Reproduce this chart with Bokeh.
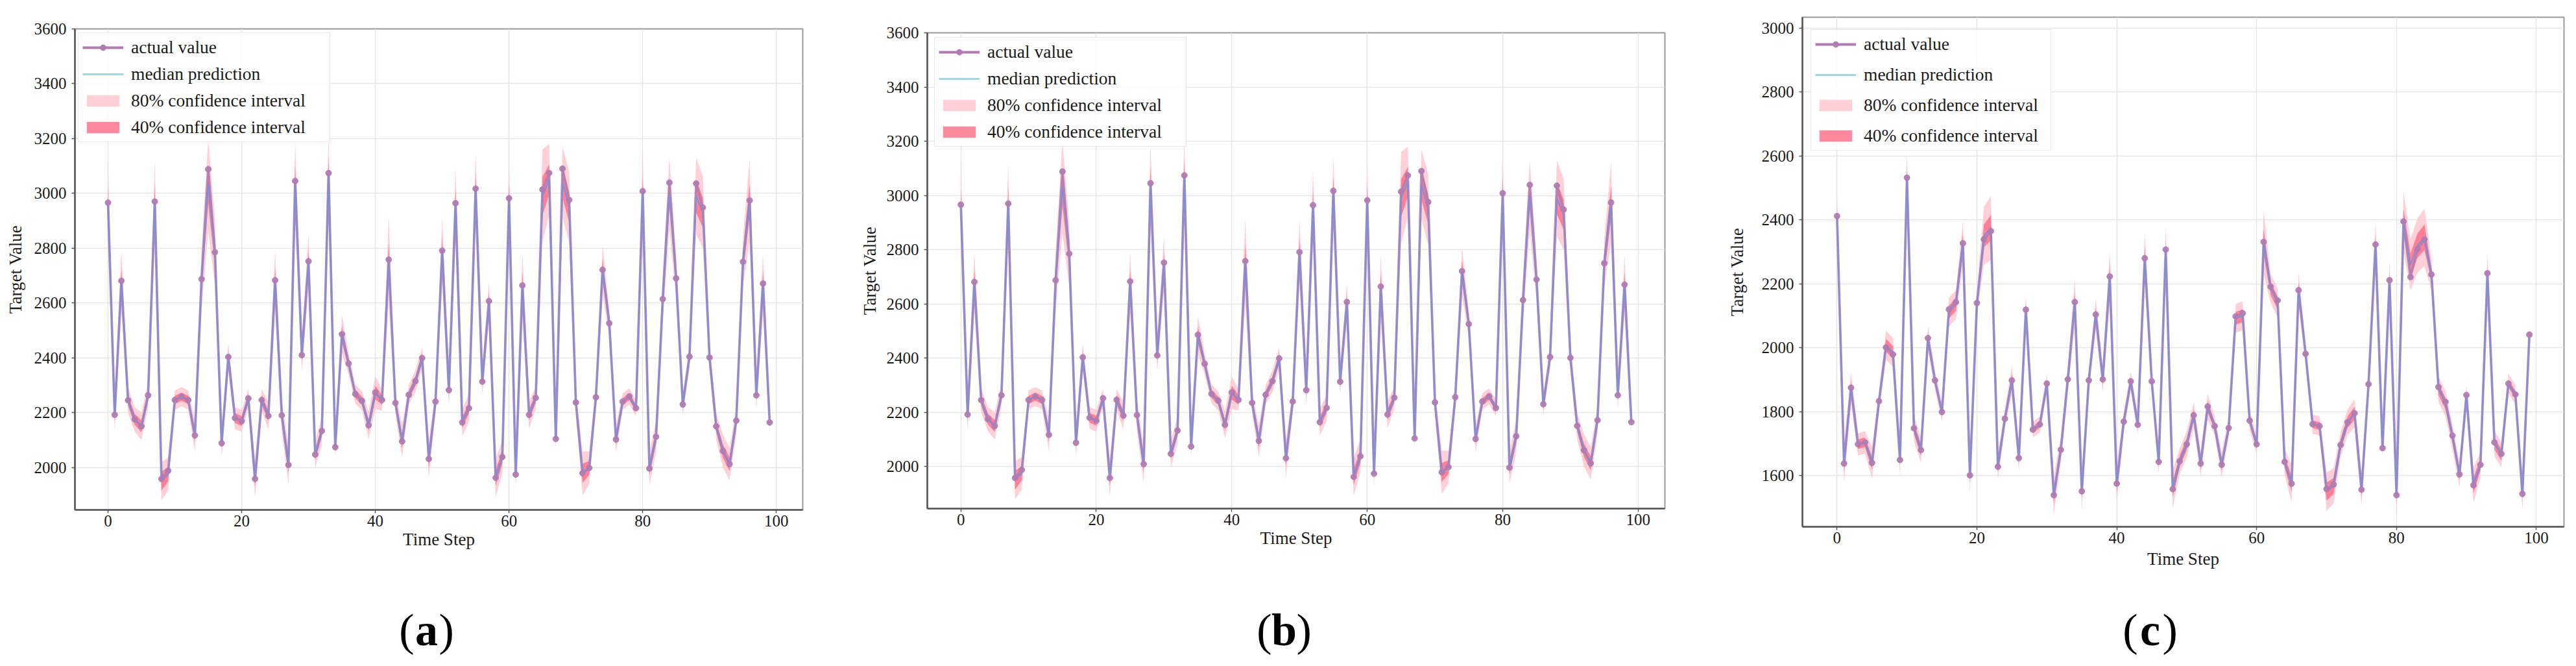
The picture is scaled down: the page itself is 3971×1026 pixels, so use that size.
from bokeh.plotting import figure
from bokeh.models import (ColumnDataSource, Range1d, FixedTicker, Legend, LegendItem)
from bokeh.layouts import row, column
from bokeh.core.properties import value
from bokeh.embed import file_html
from bokeh.resources import INLINE

# ---------------- data ----------------
steps = list(range(100))

actual_ab = [2966, 2192, 2681, 2245, 2175, 2150, 2263, 2970, 1958, 1988,
             2246, 2258, 2246, 2117, 2687, 3088, 2785, 2088, 2403, 2180,
             2169, 2252, 1958, 2246, 2188, 2683, 2190, 2009, 3045, 2410,
             2752, 2047, 2133, 3074, 2074, 2486, 2379, 2268, 2243, 2154,
             2273, 2246, 2758, 2235, 2095, 2265, 2315, 2399, 2031, 2240,
             2791, 2282, 2964, 2164, 2216, 3017, 2313, 2607, 1962, 2038,
             2982, 1974, 2664, 2192, 2254, 3014, 3074, 2104, 3090, 2976,
             2237, 1979, 1998, 2256, 2721, 2526, 2102, 2240, 2259, 2216,
             3008, 1996, 2112, 2614, 3039, 2690, 2230, 2404, 3036, 2948,
             2401, 2150, 2060, 2012, 2171, 2750, 2974, 2263, 2671, 2164]

median_ab = [2966, 2192, 2681, 2245, 2175, 2150, 2263, 2970, 1950, 1975,
             2246, 2258, 2246, 2117, 2687, 3030, 2785, 2088, 2403, 2180,
             2169, 2252, 1958, 2246, 2188, 2683, 2190, 2009, 3045, 2410,
             2752, 2047, 2133, 3074, 2074, 2486, 2379, 2268, 2243, 2154,
             2273, 2246, 2758, 2235, 2095, 2265, 2315, 2399, 2031, 2240,
             2791, 2282, 2964, 2164, 2216, 3017, 2313, 2607, 1962, 2038,
             2982, 1974, 2664, 2192, 2254, 2990, 3050, 2104, 3040, 2950,
             2237, 1979, 1998, 2256, 2721, 2526, 2102, 2240, 2259, 2216,
             3008, 1996, 2112, 2614, 3000, 2690, 2230, 2404, 2990, 2930,
             2401, 2150, 2060, 2012, 2171, 2750, 2974, 2263, 2671, 2164]

hw80_ab = [150, 60, 110, 45, 45, 50, 45, 150, 70, 60,
           35, 35, 35, 60, 110, 170, 120, 50, 50, 40,
           40, 35, 70, 40, 50, 110, 60, 70, 150, 60,
           100, 50, 50, 150, 40, 70, 40, 35, 35, 50,
           60, 40, 160, 40, 60, 35, 40, 40, 70, 40,
           120, 60, 130, 50, 50, 130, 50, 70, 70, 60,
           140, 50, 120, 50, 40, 170, 130, 40, 130, 130,
           40, 80, 60, 40, 90, 50, 50, 30, 30, 30,
           140, 60, 60, 80, 130, 80, 40, 40, 140, 130,
           50, 50, 60, 60, 50, 90, 150, 50, 110, 40]

hw40_ab = [60, 25, 45, 20, 20, 22, 20, 60, 35, 25,
           15, 15, 15, 25, 45, 70, 50, 20, 20, 18,
           18, 15, 30, 18, 20, 45, 25, 30, 60, 25,
           40, 20, 20, 60, 18, 30, 18, 15, 15, 20,
           25, 18, 60, 18, 25, 15, 18, 18, 30, 18,
           50, 25, 55, 20, 20, 55, 20, 30, 30, 25,
           55, 20, 50, 20, 18, 70, 55, 18, 55, 55,
           18, 35, 25, 18, 40, 20, 20, 13, 13, 13,
           55, 25, 25, 35, 55, 35, 18, 18, 60, 55,
           20, 20, 25, 25, 20, 40, 60, 20, 45, 18]

actual_c = [2412, 1638, 1875, 1698, 1704, 1640, 1833, 2001, 1979, 1649,
            2532, 1748, 1680, 2030, 1898, 1799, 2120, 2143, 2327, 1601,
            2140, 2339, 2365, 1628, 1778, 1898, 1655, 2119, 1744, 1760,
            1888, 1539, 1681, 1901, 2143, 1551, 1898, 2104, 1901, 2223,
            1575, 1769, 1895, 1759, 2280, 1895, 1643, 2307, 1558, 1645,
            1698, 1789, 1638, 1816, 1755, 1634, 1749, 2098, 2108, 1772,
            1698, 2331, 2191, 2148, 1643, 1575, 2180, 1981, 1761, 1755,
            1558, 1572, 1696, 1767, 1795, 1556, 1886, 2323, 1686, 2211,
            1539, 2395, 2221, 2308, 2339, 2229, 1877, 1831, 1725, 1604,
            1852, 1570, 1634, 2233, 1704, 1668, 1888, 1854, 1543, 2041]

median_c = [2412, 1638, 1875, 1698, 1704, 1640, 1833, 2008, 1985, 1649,
            2532, 1748, 1680, 2030, 1898, 1799, 2112, 2135, 2327, 1601,
            2140, 2350, 2375, 1628, 1778, 1898, 1655, 2119, 1744, 1760,
            1888, 1539, 1681, 1901, 2143, 1551, 1898, 2104, 1901, 2223,
            1575, 1769, 1895, 1759, 2280, 1895, 1643, 2307, 1558, 1645,
            1698, 1789, 1638, 1816, 1755, 1634, 1749, 2092, 2100, 1772,
            1698, 2331, 2185, 2140, 1643, 1575, 2180, 1981, 1761, 1755,
            1550, 1568, 1696, 1767, 1795, 1556, 1886, 2323, 1686, 2211,
            1539, 2395, 2260, 2320, 2345, 2229, 1870, 1825, 1720, 1604,
            1852, 1570, 1634, 2233, 1700, 1665, 1888, 1854, 1543, 2041]

hw80_c = [70, 60, 50, 35, 35, 50, 30, 45, 45, 50,
          80, 40, 40, 40, 30, 30, 45, 45, 70, 60,
          40, 90, 100, 40, 30, 45, 40, 45, 25, 25,
          30, 60, 40, 40, 70, 60, 30, 50, 40, 80,
          60, 30, 30, 30, 80, 30, 40, 70, 60, 40,
          40, 40, 40, 40, 30, 40, 30, 45, 45, 30,
          30, 100, 45, 45, 40, 60, 55, 30, 30, 30,
          60, 55, 40, 40, 45, 50, 30, 70, 30, 60,
          60, 95, 80, 85, 90, 50, 40, 40, 40, 40,
          30, 55, 40, 60, 40, 40, 30, 30, 50, 30]

hw40_c = [30, 25, 20, 15, 15, 20, 12, 20, 20, 20,
          35, 18, 18, 18, 12, 12, 20, 20, 30, 25,
          18, 35, 40, 18, 12, 20, 18, 20, 10, 10,
          12, 25, 18, 18, 30, 25, 12, 22, 18, 35,
          25, 12, 12, 12, 35, 12, 18, 30, 25, 18,
          18, 18, 18, 18, 12, 18, 12, 20, 20, 12,
          12, 40, 20, 20, 18, 25, 25, 12, 12, 12,
          28, 25, 18, 18, 20, 20, 12, 30, 12, 25,
          25, 40, 35, 38, 40, 20, 18, 18, 18, 18,
          12, 25, 18, 25, 18, 18, 12, 12, 20, 12]

x_ticks = [0, 20, 40, 60, 80, 100]
y_ticks_ab = [2000, 2200, 2400, 2600, 2800, 3000, 3200, 3400, 3600]
y_ticks_c = [1600, 1800, 2000, 2200, 2400, 2600, 2800, 3000]

legend_labels = ["actual value", "median prediction",
                 "80% confidence interval", "40% confidence interval"]
captions = ["a", "b", "c"]

# ---------------- styling ----------------
SERIF = "Liberation Serif"
TICKFONT = "Liberation Sans Narrow"
C_ACTUAL = "#b07cb2"
C_MEDIAN_PLOT = "#7a90d8"
C_MEDIAN_LEG = "#a3d7e0"
C_80 = "#ffc0cb"
C_40 = "#ff6b86"
NAN = float("nan")


def make_panel(actual, median, hw80, hw40, yr, yticks, geo, leg):
    lo80 = [m - h for m, h in zip(median, hw80)]
    hi80 = [m + h for m, h in zip(median, hw80)]
    lo40 = [m - h for m, h in zip(median, hw40)]
    hi40 = [m + h for m, h in zip(median, hw40)]
    src = ColumnDataSource(dict(x=steps, actual=actual, median=median,
                                lo80=lo80, hi80=hi80, lo40=lo40, hi40=hi40))

    p = figure(frame_width=geo["fw"], frame_height=geo["fh"],
               min_border_left=geo["l"], min_border_right=geo["r"],
               min_border_top=geo["t"], min_border_bottom=geo["b"],
               x_range=Range1d(-4.95, 103.95), y_range=Range1d(*yr),
               output_backend="svg", toolbar_location=None,
               background_fill_color="white", border_fill_color="white")

    r80 = p.varea(x="x", y1="lo80", y2="hi80", source=src,
                  fill_color=C_80, fill_alpha=0.75)
    r40 = p.varea(x="x", y1="lo40", y2="hi40", source=src,
                  fill_color=C_40, fill_alpha=0.8)
    p.line(x="x", y="actual", source=src, line_color=C_ACTUAL,
           line_width=3.8, line_alpha=0.85)
    p.line(x="x", y="median", source=src, line_color=C_MEDIAN_PLOT,
           line_width=2.2, line_alpha=0.9)
    p.scatter(x="x", y="actual", source=src, size=9,
              fill_color=C_ACTUAL, line_color=C_ACTUAL, alpha=0.95)

    # legend proxies (a single missing point: drawn only in the legend)
    proxy = ColumnDataSource(dict(x=[NAN], y=[NAN]))
    pa_line = p.line(x="x", y="y", source=proxy, line_color=C_ACTUAL, line_width=4)
    pa_pt = p.scatter(x="x", y="y", source=proxy, size=12,
                      fill_color=C_ACTUAL, line_color=C_ACTUAL)
    pm = p.line(x="x", y="y", source=proxy, line_color=C_MEDIAN_LEG, line_width=3)

    legend = Legend(items=[
        LegendItem(label=legend_labels[0], renderers=[pa_line, pa_pt]),
        LegendItem(label=legend_labels[1], renderers=[pm]),
        LegendItem(label=legend_labels[2], renderers=[r80]),
        LegendItem(label=legend_labels[3], renderers=[r40]),
    ], location=(leg["x"], geo["fh"] - leg["y"] - leg["h"]))
    legend.label_text_font = SERIF
    legend.label_text_font_size = "27.5px"
    legend.label_text_color = "#1a1a1a"
    legend.glyph_width = 63
    legend.glyph_height = 22
    legend.label_height = 30
    legend.label_width = leg["lw"]
    legend.label_standoff = 12
    legend.spacing = leg["sp"]
    legend.padding = leg["pad"]
    legend.margin = 0
    legend.border_line_color = "#d4d4d4"
    legend.border_line_width = 1.5
    legend.background_fill_color = "white"
    legend.background_fill_alpha = 0.85
    p.add_layout(legend, "center")

    # axes
    p.xaxis.ticker = FixedTicker(ticks=x_ticks)
    p.yaxis.ticker = FixedTicker(ticks=yticks)
    for ax in (p.xaxis, p.yaxis):
        ax.axis_line_color = "#555555"
        ax.axis_line_width = 2.5
        ax.major_tick_line_color = "#555555"
        ax.major_tick_line_width = 1.5
        ax.major_tick_out = 5
        ax.major_tick_in = 0
        ax.minor_tick_line_color = None
        ax.major_label_text_font = TICKFONT
        ax.major_label_text_font_size = "25px"
        ax.major_label_text_color = "#1a1a1a"
        ax.axis_label_text_font = SERIF
        ax.axis_label_text_font_style = "normal"
        ax.axis_label_text_color = "#1a1a1a"
    p.xaxis.major_label_standoff = 3
    p.yaxis.major_label_standoff = 8
    p.xaxis.axis_label = "Time Step"
    p.xaxis.axis_label_text_font_size = "27px"
    p.xaxis.axis_label_standoff = geo["xlab"]
    p.yaxis.axis_label = "Target Value"
    p.yaxis.axis_label_text_font_size = "27px"
    p.yaxis.axis_label_standoff = geo["ylab"]

    p.xgrid.grid_line_color = "#e6e6e6"
    p.ygrid.grid_line_color = "#e6e6e6"
    p.xgrid.grid_line_width = 1.5
    p.ygrid.grid_line_width = 1.5
    p.outline_line_color = "#9a9a9a"
    p.outline_line_width = 2
    return p


def make_caption(cap, geo, cx):
    # same borders as the panel above, so that the column keeps the frames aligned
    h = 110
    q = figure(frame_width=geo["fw"], frame_height=h,
               min_border_left=geo["l"], min_border_right=geo["r"],
               min_border_top=0, min_border_bottom=0,
               x_range=Range1d(0, geo["fw"]), y_range=Range1d(0, h),
               x_axis_type=None, y_axis_type=None,
               output_backend="svg", toolbar_location=None,
               outline_line_color=None, background_fill_color="white",
               border_fill_color="white")
    q.xgrid.visible = False
    q.ygrid.visible = False
    common = dict(y=[40], text_font=value(SERIF), text_font_size="70px",
                  text_baseline="middle", text_color="black")
    q.text(x=[cx], text=[cap], text_align="center", text_font_style="bold", **common)
    q.text(x=[cx], text=["("], text_align="right", x_offset=-19, **common)
    q.text(x=[cx], text=[")"], text_align="left", x_offset=19, **common)
    return q


geo_a = dict(fw=1122, fh=741, l=115, r=85, t=44, b=115, ylab=11, xlab=2)
geo_b = dict(fw=1137, fh=733, l=107, r=70, t=50, b=117, ylab=8, xlab=2)
geo_c = dict(fw=1174, fh=785, l=142, r=3, t=26, b=89, ylab=20, xlab=6)
leg_a = dict(x=5, y=16, h=159, lw=300, sp=9, pad=6)
leg_b = dict(x=11, y=17, h=159, lw=300, sp=9, pad=6)
leg_c = dict(x=13, y=26, h=180, lw=282, sp=15, pad=6)

pa = make_panel(actual_ab, median_ab, hw80_ab, hw40_ab, (1845, 3600), y_ticks_ab, geo_a, leg_a)
pb = make_panel(actual_ab, median_ab, hw80_ab, hw40_ab, (1845, 3600), y_ticks_ab, geo_b, leg_b)
pc = make_panel(actual_c, median_c, hw80_c, hw40_c, (1440, 3034), y_ticks_c, geo_c, leg_c)

ca = make_caption(captions[0], geo_a, 542)
cb = make_caption(captions[1], geo_b, 550)
cc = make_caption(captions[2], geo_c, 536)

layout = row(column(pa, ca, spacing=0), column(pb, cb, spacing=0),
             column(pc, cc, spacing=0), spacing=0)
open("out.html", "w").write(file_html(layout, INLINE))
